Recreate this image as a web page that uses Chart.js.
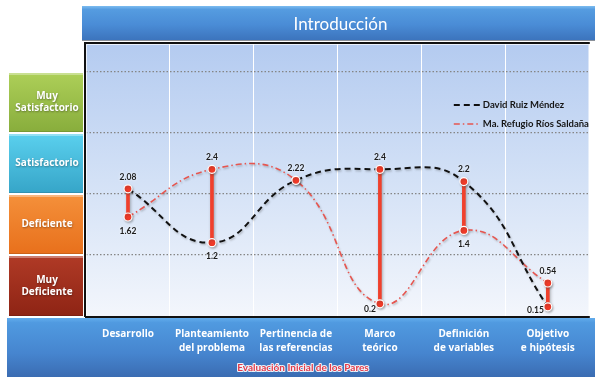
<!DOCTYPE html>
<html>
<head>
<meta charset="utf-8">
<script src="https://cdn.jsdelivr.net/npm/chart.js@4.4.1/dist/chart.umd.min.js"></script>
<style>
  html, body { margin: 0; padding: 0; background: #ffffff; }
  #wrap { width: 595px; height: 377px; position: relative; }
</style>
</head>
<body>
<div id="wrap"><canvas id="grafico" width="595" height="377"></canvas></div>
<script>
// Aspectos evaluados (eje horizontal)
const categorias = [
  ['Desarrollo'],
  ['Planteamiento', 'del problema'],
  ['Pertinencia de', 'las referencias'],
  ['Marco', 'teórico'],
  ['Definición', 'de variables'],
  ['Objetivo', 'e hipótesis']
];

// Puntajes de cada evaluador
const davidRuiz = [2.08, 1.2, 2.22, 2.4, 2.2, 0.15];
const riosSaldana = [1.62, 2.4, 2.22, 0.2, 1.4, 0.54];
const evaluadores = ['David Ruiz Méndez', 'Ma. Refugio Ríos Saldaña'];

// Niveles de la escala, de 0-1 hasta 3-4
const niveles = [
  ['Muy', 'Deficiente'],
  ['Deficiente'],
  ['Satisfactorio'],
  ['Muy', 'Satisfactorio']
];
const nivelesColores = [
  ['#b03a26', '#8e2414'],
  ['#f4903a', '#e8701c'],
  ['#5ad0ee', '#36a5c8'],
  ['#adcf58', '#88ad3c']
];

const tituloGrafico = 'Introducción';
const tituloEje = 'Evaluación Inicial de los Pares';

// Rango entre ambos evaluadores por aspecto
const rangos = categorias.map((_, i) => [
  Math.min(davidRuiz[i], riosSaldana[i]),
  Math.max(davidRuiz[i], riosSaldana[i])
]);

// Fondos: franjas azules, área de trazado y niveles de la escala
const fondo = {
  id: 'fondo',
  beforeDraw(chart) {
    const { ctx, chartArea: a, width, height } = chart;
    const ys = chart.scales.y;
    ctx.save();

    // franja superior (título)
    let g = ctx.createLinearGradient(0, 6, 0, 40);
    g.addColorStop(0, '#7cbcf0');
    g.addColorStop(0.1, '#559ce0');
    g.addColorStop(0.55, '#4a8cd6');
    g.addColorStop(1, '#3c74bd');
    ctx.fillStyle = g;
    ctx.fillRect(82, 6, width - 82, 34);
    ctx.fillStyle = '#8a9099';
    ctx.fillRect(82, 40, width - 82, 1);

    // franja inferior (categorías)
    g = ctx.createLinearGradient(0, a.bottom + 2, 0, height);
    g.addColorStop(0, '#62acec');
    g.addColorStop(0.08, '#509ae0');
    g.addColorStop(0.6, '#4685cf');
    g.addColorStop(1, '#3a6cb2');
    ctx.fillStyle = g;
    ctx.fillRect(7, a.bottom + 2, width - 7, height - a.bottom - 2);

    // área de trazado
    g = ctx.createLinearGradient(0, a.top, 0, a.bottom);
    g.addColorStop(0, '#b4cbf0');
    g.addColorStop(0.5, '#d3e1f6');
    g.addColorStop(1, '#f3f6fc');
    ctx.fillStyle = g;
    ctx.fillRect(a.left, a.top, a.right - a.left, a.bottom - a.top);

    // niveles de la escala
    niveles.forEach((txt, k) => {
      const y0 = Math.round(ys.getPixelForValue(k + 1)) + 1;
      const y1 = Math.round(ys.getPixelForValue(k)) - (k === 0 ? 0 : 1);
      const gr = ctx.createLinearGradient(0, y0, 0, y1);
      gr.addColorStop(0, nivelesColores[k][0]);
      gr.addColorStop(1, nivelesColores[k][1]);
      ctx.fillStyle = gr;
      ctx.fillRect(9, y0, 74, y1 - y0);
      ctx.fillStyle = 'rgba(255,255,255,0.35)';
      ctx.fillRect(9, y0, 74, 2);
      ctx.fillStyle = 'rgba(0,0,0,0.12)';
      ctx.fillRect(9, y1 - 1, 74, 1);

      ctx.save();
      ctx.shadowColor = 'rgba(0,0,0,0.35)';
      ctx.shadowBlur = 2;
      ctx.shadowOffsetX = 0.5;
      ctx.shadowOffsetY = 1;
      ctx.fillStyle = '#ffffff';
      ctx.font = 'bold 10px "Open Sans"';
      ctx.textAlign = 'center';
      ctx.textBaseline = 'middle';
      const cy = (y0 + y1) / 2;
      txt.forEach((line, j) => {
        ctx.fillText(line, 47, cy + (j - (txt.length - 1) / 2) * 12);
      });
      ctx.restore();
    });
    ctx.restore();
  }
};

// Marco negro del área de trazado
const marco = {
  id: 'marco',
  beforeDatasetsDraw(chart) {
    const { ctx, chartArea: a } = chart;
    ctx.save();
    ctx.strokeStyle = '#111111';
    ctx.lineWidth = 2;
    ctx.beginPath();
    ctx.moveTo(a.left - 1, a.bottom + 1);
    ctx.lineTo(a.left - 1, a.top - 1);
    ctx.lineTo(a.right, a.top - 1);
    ctx.moveTo(a.left - 1, a.bottom + 1);
    ctx.lineTo(a.right, a.bottom + 1);
    ctx.stroke();
    ctx.strokeStyle = 'rgba(255,255,255,0.7)';
    ctx.lineWidth = 1;
    ctx.beginPath();
    ctx.moveTo(a.left + 0.5, a.bottom - 0.5);
    ctx.lineTo(a.left + 0.5, a.top + 0.5);
    ctx.lineTo(a.right - 1, a.top + 0.5);
    ctx.lineTo(a.right - 1, a.bottom - 0.5);
    ctx.stroke();
    ctx.restore();
  }
};

// Sombras suaves para líneas, rangos y marcadores
const sombras = {
  id: 'sombras',
  beforeDatasetDraw(chart, args) {
    const ctx = chart.ctx;
    ctx.save();
    if (args.meta.type === 'bar') {
      ctx.shadowColor = 'rgba(80,80,80,0.45)';
      ctx.shadowBlur = 3;
      ctx.shadowOffsetX = 1;
      ctx.shadowOffsetY = 1;
    } else {
      ctx.shadowColor = 'rgba(60,60,60,0.3)';
      ctx.shadowBlur = 2;
      ctx.shadowOffsetX = 1;
      ctx.shadowOffsetY = 1.5;
    }
  },
  afterDatasetDraw(chart) {
    chart.ctx.restore();
  }
};

// Valores sobre y bajo cada rango, y leyenda interna
const etiquetas = {
  id: 'etiquetas',
  afterDatasetsDraw(chart) {
    const { ctx, chartArea: a } = chart;
    const xs = chart.scales.x, ys = chart.scales.y;
    ctx.save();
    ctx.font = 'bold 8.5px Lato';
    ctx.fillStyle = '#1b1b1b';
    ctx.textBaseline = 'middle';
    ctx.shadowColor = 'rgba(255,255,255,0.95)';
    ctx.shadowBlur = 3;
    rangos.forEach(([lo, hi], i) => {
      const x = xs.getPixelForValue(i);
      ctx.textAlign = 'center';
      ctx.fillText(String(hi), x, ys.getPixelForValue(hi) - 12);
      if (lo !== hi) {
        const yp = ys.getPixelForValue(lo);
        if (yp + 14 > a.bottom - 6) {
          ctx.textAlign = 'right';
          ctx.fillText(String(lo), x - 4, Math.min(yp + 5, a.bottom - 6));
        } else {
          ctx.fillText(String(lo), x, yp + 14);
        }
      }
    });
    ctx.restore();

    // leyenda
    ctx.save();
    chart.data.datasets.forEach((ds, i) => {
      if (ds.type === 'bar') return;
      const y = a.top + 61 + i * 19;
      const x0 = a.right - 136;
      ctx.strokeStyle = ds.borderColor;
      ctx.lineWidth = ds.borderWidth;
      ctx.setLineDash(ds.borderDash);
      ctx.beginPath();
      ctx.moveTo(x0, y);
      ctx.lineTo(x0 + 27, y);
      ctx.stroke();
      ctx.setLineDash([]);
      ctx.fillStyle = '#151515';
      ctx.font = 'bold 9.5px Lato';
      ctx.textAlign = 'left';
      ctx.textBaseline = 'middle';
      ctx.fillText(ds.label, x0 + 29, y);
    });
    ctx.restore();

    // título del eje horizontal
    ctx.save();
    ctx.font = 'bold 10px Lato';
    ctx.textAlign = 'center';
    ctx.textBaseline = 'middle';
    ctx.lineJoin = 'round';
    ctx.strokeStyle = 'rgba(255,255,255,0.9)';
    ctx.lineWidth = 2;
    const tx = 303, ty = chart.height - 9;
    ctx.strokeText(tituloEje, tx, ty);
    ctx.fillStyle = '#e23b4a';
    ctx.fillText(tituloEje, tx, ty);
    ctx.restore();
  }
};

new Chart(document.getElementById('grafico'), {
  type: 'line',
  data: {
    labels: categorias,
    datasets: [
      {
        label: evaluadores[0],
        data: davidRuiz,
        borderColor: '#111111',
        borderWidth: 2,
        borderDash: [6, 4],
        tension: 0.45,
        fill: false,
        pointRadius: 4,
        pointBackgroundColor: '#f03a28',
        pointBorderColor: '#ffffff',
        pointBorderWidth: 1.2,
        order: 1
      },
      {
        label: evaluadores[1],
        data: riosSaldana,
        borderColor: '#e65650',
        borderWidth: 1.6,
        borderDash: [6, 3, 1.5, 3],
        tension: 0.45,
        fill: false,
        pointRadius: 4,
        pointBackgroundColor: '#f03a28',
        pointBorderColor: '#ffffff',
        pointBorderWidth: 1.2,
        order: 2
      },
      {
        type: 'bar',
        label: 'Rango',
        data: rangos,
        backgroundColor: '#f0402c',
        borderWidth: 0,
        barThickness: 3,
        order: 3
      }
    ]
  },
  options: {
    responsive: false,
    animation: false,
    devicePixelRatio: 1,
    layout: { padding: { left: 86, right: 0, top: 0, bottom: 0 } },
    plugins: {
      legend: { display: false },
      tooltip: { enabled: false },
      title: {
        display: true,
        text: tituloGrafico,
        color: '#ffffff',
        font: { family: 'Lato', size: 17, weight: 'normal', lineHeight: 1.2 },
        padding: { top: 14, bottom: 9.6 }
      }
    },
    scales: {
      x: {
        type: 'category',
        offset: true,
        grid: { offset: true, color: '#ffffff', lineWidth: 1, drawTicks: false },
        border: { display: false },
        ticks: {
          color: '#ffffff',
          font: { family: 'Open Sans', size: 10, weight: 'bold', lineHeight: 1.4 },
          padding: 11,
          maxRotation: 0,
          autoSkip: false
        },
        afterFit(scale) { scale.height = 61; }
      },
      y: {
        min: 0,
        max: 4.45,
        ticks: { display: false, stepSize: 1 },
        grid: {
          drawTicks: false,
          lineWidth: 1.3,
          color: (c) => {
            const v = c.tick ? c.tick.value : 0;
            return (v > 0 && v < 4.45 && Number.isInteger(v)) ? '#858585' : 'rgba(0,0,0,0)';
          }
        },
        border: { display: false, dash: [1.5, 2] },
        afterFit(scale) { scale.width = 0; }
      }
    }
  },
  plugins: [fondo, marco, sombras, etiquetas]
});
</script>
</body>
</html>
